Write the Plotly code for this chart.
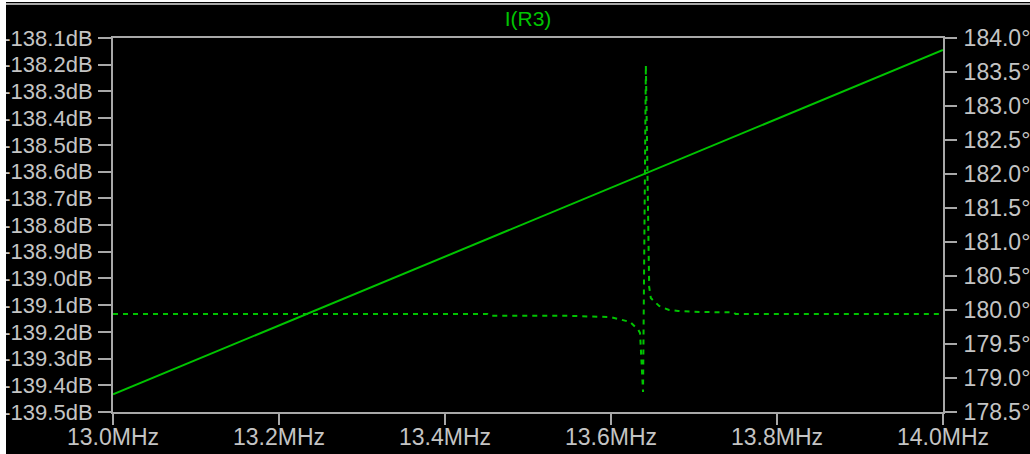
import plotly.graph_objects as go

# Frequency sweep (MHz) and magnitude of I(R3) in dB
freq_mag = [13.0, 13.2, 13.4, 13.6, 13.8, 14.0]
mag_db = [-139.434, -139.176, -138.918, -138.660, -138.403, -138.145]

# Phase of I(R3) in degrees around the 13.64 MHz notch
freq_ph = [13.0, 13.2, 13.4, 13.451, 13.453, 13.55, 13.6, 13.623, 13.633,
           13.635, 13.6386, 13.642, 13.646, 13.648, 13.658, 13.670, 13.681,
           13.707, 13.748, 13.750, 13.9, 14.0]
phase_deg = [179.941, 179.941, 179.941, 179.941, 179.916, 179.914, 179.895,
             179.824, 179.706, 179.66, 178.794, 183.60, 180.34, 180.176,
             180.059, 180.0, 179.985, 179.971, 179.965, 179.941, 179.941,
             179.941]

# Axis ticks and labels
x_ticks = [13.0, 13.2, 13.4, 13.6, 13.8, 14.0]
x_labels = ["13.0MHz", "13.2MHz", "13.4MHz", "13.6MHz", "13.8MHz", "14.0MHz"]
db_ticks = [-138.1, -138.2, -138.3, -138.4, -138.5, -138.6, -138.7, -138.8,
            -138.9, -139.0, -139.1, -139.2, -139.3, -139.4, -139.5]
db_labels = ["-138.1dB", "-138.2dB", "-138.3dB", "-138.4dB", "-138.5dB",
             "-138.6dB", "-138.7dB", "-138.8dB", "-138.9dB", "-139.0dB",
             "-139.1dB", "-139.2dB", "-139.3dB", "-139.4dB", "-139.5dB"]
deg_ticks = [184.0, 183.5, 183.0, 182.5, 182.0, 181.5, 181.0, 180.5, 180.0,
             179.5, 179.0, 178.5]
deg_labels = ["184.0°", "183.5°", "183.0°", "182.5°", "182.0°", "181.5°",
              "181.0°", "180.5°", "180.0°", "179.5°", "179.0°", "178.5°"]

W, H = 1030, 454
ML, MR, MT, MB = 113, 87, 38, 42
PW, PH = W - ML - MR, H - MT - MB

TRACE = "#00c400"
GRID = "#a8a8a8"
TXT = "#c4c4c4"
FONT = "Liberation Sans"

fig = go.Figure()
fig.add_trace(go.Scatter(x=freq_mag, y=mag_db, mode="lines",
                         line=dict(color=TRACE, width=2), yaxis="y"))
fig.add_trace(go.Scatter(x=freq_ph, y=phase_deg, mode="lines",
                         line=dict(color=TRACE, width=2, dash="5px,5px"),
                         yaxis="y2"))


def px_x(px):
    return (px - ML) / PW


def px_y(py):
    return 1 - (py - MT) / PH


shapes = [
    # white strip on the left edge and top edge
    dict(type="rect", xref="paper", yref="paper", x0=px_x(0), x1=px_x(6),
         y0=px_y(H), y1=px_y(0), fillcolor="white", line=dict(width=0),
         layer="above"),
    dict(type="rect", xref="paper", yref="paper", x0=px_x(0), x1=px_x(W),
         y0=px_y(2), y1=px_y(0), fillcolor="white", line=dict(width=0),
         layer="above"),
    # separator line above the title
    dict(type="line", xref="paper", yref="paper", x0=px_x(6), x1=px_x(W),
         y0=px_y(4), y1=px_y(4), line=dict(color=GRID, width=2)),
]

# frequency labels under the bottom axis
annotations = [
    dict(x=v, y=px_y(437), xref="x", yref="paper", text=t, showarrow=False,
         xanchor="center", yanchor="middle",
         font=dict(family=FONT, size=23, color=TXT))
    for v, t in zip(x_ticks, x_labels)
]

fig.update_layout(
    width=W, height=H,
    margin=dict(l=ML, r=MR, t=MT, b=MB, pad=0, autoexpand=False),
    paper_bgcolor="black", plot_bgcolor="black",
    showlegend=False,
    font=dict(family=FONT, size=22, color=TXT),
    title=dict(text="I(R3)", x=px_x(528), xref="paper", xanchor="center",
               y=1 - 19 / H, yanchor="middle", yref="container",
               font=dict(family=FONT, size=21, color=TRACE)),
    xaxis=dict(range=[13.0, 14.0], tickvals=x_ticks, showticklabels=False,
               automargin=False,
               showgrid=False, zeroline=False, showline=True, mirror=True,
               linecolor=GRID, linewidth=2, ticks="outside", ticklen=11,
               tickwidth=2, tickcolor=GRID),
    yaxis=dict(range=[-139.5, -138.1], tickvals=db_ticks, ticktext=db_labels,
               automargin=False, tickfont=dict(size=22),
               showgrid=False, zeroline=False, showline=True, linecolor=GRID,
               linewidth=2, ticks="outside", ticklen=13, tickwidth=2,
               tickcolor=GRID, ticklabelstandoff=1),
    yaxis2=dict(range=[178.5, 184.0], tickvals=deg_ticks, ticktext=deg_labels,
                automargin=False, tickfont=dict(size=23),
                overlaying="y", side="right", showgrid=False, zeroline=False,
                showline=True, linecolor=GRID, linewidth=2, ticks="outside",
                ticklen=12, tickwidth=2, tickcolor=GRID, ticklabelstandoff=2),
    shapes=shapes,
    annotations=annotations,
)

fig.write_html("out.html", config={"displayModeBar": False})
